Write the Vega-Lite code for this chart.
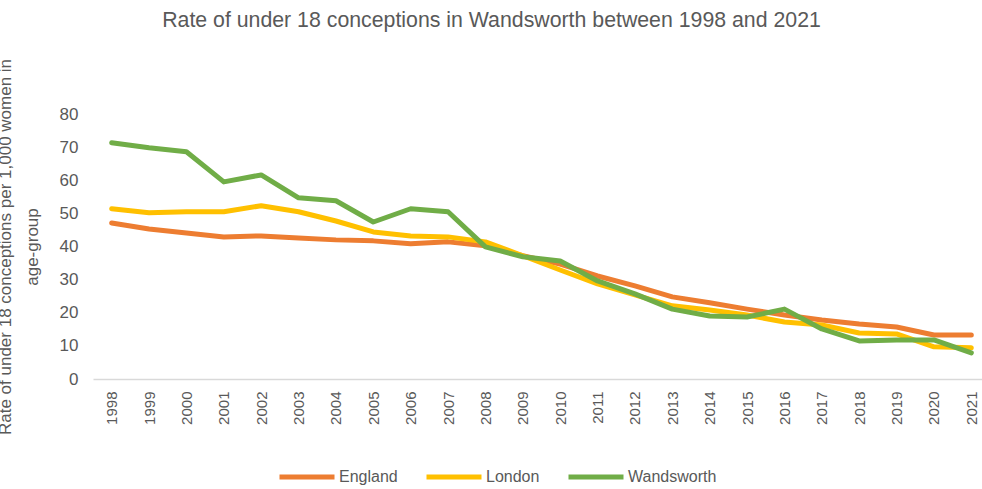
{
  "$schema": "https://vega.github.io/schema/vega-lite/v6.json",
  "autosize": {"type": "none"},
  "padding": {"left": 93, "top": 114, "right": 0, "bottom": 110},
  "width": 897,
  "height": 265,
  "background": "white",
  "config": {"view": {"stroke": null}, "font": "Liberation Sans"},
  "title": {
    "text": "Rate of under 18 conceptions in Wandsworth between 1998 and 2021",
    "fontSize": 21.3,
    "fontWeight": "normal",
    "color": "#595959",
    "anchor": "middle",
    "frame": "group",
    "dx": -50,
    "offset": 27
  },
  "data": {
    "values": [
      {"year": "1998", "area": "England", "rate": 47.1},
      {"year": "1999", "area": "England", "rate": 45.3},
      {"year": "2000", "area": "England", "rate": 44.1},
      {"year": "2001", "area": "England", "rate": 42.9},
      {"year": "2002", "area": "England", "rate": 43.2},
      {"year": "2003", "area": "England", "rate": 42.6},
      {"year": "2004", "area": "England", "rate": 42.0},
      {"year": "2005", "area": "England", "rate": 41.7},
      {"year": "2006", "area": "England", "rate": 40.8},
      {"year": "2007", "area": "England", "rate": 41.4},
      {"year": "2008", "area": "England", "rate": 40.2},
      {"year": "2009", "area": "England", "rate": 37.2},
      {"year": "2010", "area": "England", "rate": 34.7},
      {"year": "2011", "area": "England", "rate": 31.1},
      {"year": "2012", "area": "England", "rate": 28.1},
      {"year": "2013", "area": "England", "rate": 24.8},
      {"year": "2014", "area": "England", "rate": 23.0},
      {"year": "2015", "area": "England", "rate": 21.1},
      {"year": "2016", "area": "England", "rate": 19.3},
      {"year": "2017", "area": "England", "rate": 17.8},
      {"year": "2018", "area": "England", "rate": 16.6},
      {"year": "2019", "area": "England", "rate": 15.7},
      {"year": "2020", "area": "England", "rate": 13.3},
      {"year": "2021", "area": "England", "rate": 13.3},
      {"year": "1998", "area": "London", "rate": 51.4},
      {"year": "1999", "area": "London", "rate": 50.2},
      {"year": "2000", "area": "London", "rate": 50.5},
      {"year": "2001", "area": "London", "rate": 50.5},
      {"year": "2002", "area": "London", "rate": 52.3},
      {"year": "2003", "area": "London", "rate": 50.5},
      {"year": "2004", "area": "London", "rate": 47.7},
      {"year": "2005", "area": "London", "rate": 44.4},
      {"year": "2006", "area": "London", "rate": 43.2},
      {"year": "2007", "area": "London", "rate": 42.9},
      {"year": "2008", "area": "London", "rate": 41.4},
      {"year": "2009", "area": "London", "rate": 37.2},
      {"year": "2010", "area": "London", "rate": 32.9},
      {"year": "2011", "area": "London", "rate": 28.7},
      {"year": "2012", "area": "London", "rate": 25.4},
      {"year": "2013", "area": "London", "rate": 22.1},
      {"year": "2014", "area": "London", "rate": 20.8},
      {"year": "2015", "area": "London", "rate": 19.3},
      {"year": "2016", "area": "London", "rate": 17.2},
      {"year": "2017", "area": "London", "rate": 16.3},
      {"year": "2018", "area": "London", "rate": 13.9},
      {"year": "2019", "area": "London", "rate": 13.6},
      {"year": "2020", "area": "London", "rate": 9.7},
      {"year": "2021", "area": "London", "rate": 9.4},
      {"year": "1998", "area": "Wandsworth", "rate": 71.3},
      {"year": "1999", "area": "Wandsworth", "rate": 69.8},
      {"year": "2000", "area": "Wandsworth", "rate": 68.6},
      {"year": "2001", "area": "Wandsworth", "rate": 59.5},
      {"year": "2002", "area": "Wandsworth", "rate": 61.6},
      {"year": "2003", "area": "Wandsworth", "rate": 54.7},
      {"year": "2004", "area": "Wandsworth", "rate": 53.8},
      {"year": "2005", "area": "Wandsworth", "rate": 47.4},
      {"year": "2006", "area": "Wandsworth", "rate": 51.4},
      {"year": "2007", "area": "Wandsworth", "rate": 50.5},
      {"year": "2008", "area": "Wandsworth", "rate": 39.9},
      {"year": "2009", "area": "Wandsworth", "rate": 36.9},
      {"year": "2010", "area": "Wandsworth", "rate": 35.6},
      {"year": "2011", "area": "Wandsworth", "rate": 29.6},
      {"year": "2012", "area": "Wandsworth", "rate": 25.7},
      {"year": "2013", "area": "Wandsworth", "rate": 21.1},
      {"year": "2014", "area": "Wandsworth", "rate": 19.0},
      {"year": "2015", "area": "Wandsworth", "rate": 18.7},
      {"year": "2016", "area": "Wandsworth", "rate": 21.1},
      {"year": "2017", "area": "Wandsworth", "rate": 15.1},
      {"year": "2018", "area": "Wandsworth", "rate": 11.5},
      {"year": "2019", "area": "Wandsworth", "rate": 11.8},
      {"year": "2020", "area": "Wandsworth", "rate": 11.8},
      {"year": "2021", "area": "Wandsworth", "rate": 7.9}
    ]
  },
  "mark": {"type": "line", "strokeWidth": 5, "strokeCap": "round", "strokeJoin": "round"},
  "encoding": {
    "x": {
      "field": "year",
      "type": "ordinal",
      "scale": {"type": "point", "padding": 0.5},
      "axis": {
        "title": null,
        "labelAngle": -90,
        "labelFontSize": 15,
        "labelColor": "#595959",
        "ticks": false,
        "labelPadding": 12,
        "domainColor": "#D9D9D9",
        "domainWidth": 1.5,
        "grid": false
      }
    },
    "y": {
      "field": "rate",
      "type": "quantitative",
      "scale": {"domain": [0, 80]},
      "axis": {
        "title": ["Rate of under 18 conceptions per 1,000 women in", "age-group"],
        "titleFontSize": 17,
        "titleFontWeight": "normal",
        "titleColor": "#595959",
        "titlePadding": 18,
        "titleLineHeight": 27,
        "values": [0, 10, 20, 30, 40, 50, 60, 70, 80],
        "labelFontSize": 17,
        "labelColor": "#595959",
        "labelPadding": 15,
        "ticks": false,
        "domain": false,
        "grid": false
      }
    },
    "color": {
      "field": "area",
      "type": "nominal",
      "scale": {"domain": ["England", "London", "Wandsworth"], "range": ["#ED7D31", "#FFC000", "#70AD47"]},
      "legend": {
        "title": null,
        "orient": "none",
        "direction": "horizontal",
        "legendX": 184,
        "legendY": 333,
        "symbolType": "stroke",
        "symbolSize": 3025,
        "symbolStrokeWidth": 5,
        "labelFontSize": 16,
        "labelColor": "#595959",
        "labelOffset": 2,
        "columnPadding": 18
      }
    }
  }
}
